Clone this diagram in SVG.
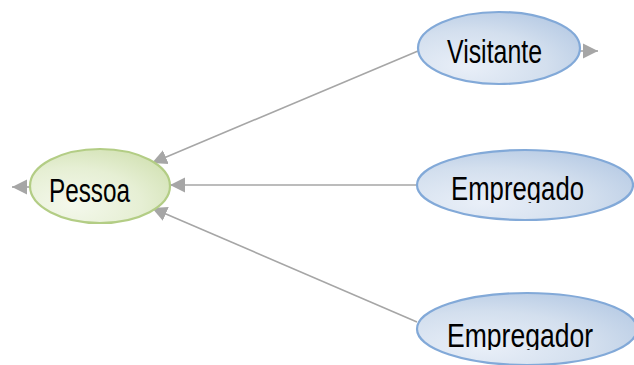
<svg xmlns="http://www.w3.org/2000/svg" width="634" height="365" viewBox="0 0 634 365">
  <style>
    .lbl { font-family: "Liberation Sans", Arial, sans-serif; font-size: 33px; fill: #000; }
    .conn { stroke: #a6a6a6; stroke-width: 1.6; fill: none; }
    .green { fill: url(#gGreen); stroke: #b3cd85; stroke-width: 2.2; }
    .blue { fill: url(#gBlue); stroke: #82a9d8; stroke-width: 2.2; }
  </style>
  <defs>
    <radialGradient id="gGreen" cx="0.3" cy="0.75" r="0.9">
      <stop offset="0" stop-color="#f4f8ec"/>
      <stop offset="0.55" stop-color="#e6efd4"/>
      <stop offset="1" stop-color="#d0e0b0"/>
    </radialGradient>
    <radialGradient id="gBlue" cx="0.3" cy="0.75" r="0.9">
      <stop offset="0" stop-color="#e9eff8"/>
      <stop offset="0.55" stop-color="#d3dfee"/>
      <stop offset="1" stop-color="#b3c8e3"/>
    </radialGradient>
    <marker id="arr" markerUnits="userSpaceOnUse" markerWidth="16" markerHeight="16" viewBox="0 0 16 16" refX="15" refY="8" orient="auto">
      <path d="M0,0.5 L15,8 L0,15.5 z" fill="#a6a6a6"/>
    </marker>
    <clipPath id="clipEmpregado"><rect x="400" y="140" width="234" height="63"/></clipPath>
    <clipPath id="clipEmpregador"><rect x="400" y="280" width="234" height="70"/></clipPath>
  </defs>

  <g id="connectors">
    <line class="conn" x1="418" y1="51" x2="152" y2="163" marker-end="url(#arr)"/>
    <line class="conn" x1="417" y1="185" x2="170" y2="185" marker-end="url(#arr)"/>
    <line class="conn" x1="417" y1="322" x2="152" y2="208" marker-end="url(#arr)"/>
    <line class="conn" x1="31" y1="187" x2="12" y2="187" marker-end="url(#arr)"/>
    <line class="conn" x1="580" y1="51" x2="598" y2="51" marker-end="url(#arr)"/>
  </g>

  <g id="pessoa">
    <ellipse class="green" cx="100" cy="186" rx="70" ry="37"/>
    <text class="lbl" x="49" y="202" textLength="81" lengthAdjust="spacingAndGlyphs">Pessoa</text>
  </g>

  <g id="visitante">
    <ellipse class="blue" cx="499" cy="48" rx="81" ry="36"/>
    <text class="lbl" x="447" y="63" textLength="95" lengthAdjust="spacingAndGlyphs">Visitante</text>
  </g>

  <g id="empregado">
    <ellipse class="blue" cx="525" cy="185" rx="108" ry="35"/>
    <text class="lbl" x="451" y="200" textLength="133" lengthAdjust="spacingAndGlyphs" clip-path="url(#clipEmpregado)">Empregado</text>
  </g>

  <g id="empregador">
    <ellipse class="blue" cx="527" cy="329" rx="110" ry="36"/>
    <text class="lbl" x="447" y="347" textLength="146" lengthAdjust="spacingAndGlyphs" clip-path="url(#clipEmpregador)">Empregador</text>
  </g>
</svg>
